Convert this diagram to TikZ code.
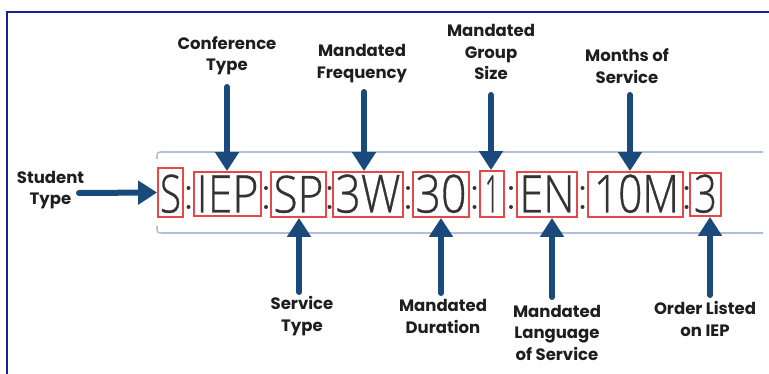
\documentclass[tikz,border=0pt]{standalone}
\usepackage{fontspec}
\usetikzlibrary{arrows.meta}
\newfontfamily\thinfont[FakeBold=0.7]{Open Sans Light}
\newfontfamily\labfont{Poppins}
\definecolor{arrowblue}{HTML}{1A4A7C}
\definecolor{boxred}{HTML}{E8474A}
\definecolor{bigtext}{HTML}{333333}
\definecolor{labtext}{HTML}{1E1E1E}
\definecolor{bandline}{HTML}{B4BDD6}
\definecolor{framecol}{HTML}{12229A}
\begin{document}
\begin{tikzpicture}[x=1pt,y=-1pt,
  lab/.style={font=\labfont\bfseries\fontsize{16.5}{21.5}\selectfont, text=labtext, align=center, inner sep=0pt, anchor=base},
  arr/.style={draw=arrowblue, line width=6pt, line cap=round, -{Triangle[width=23pt,length=19pt]}},
  rbox/.style={draw=boxred, line width=1.8pt, inner sep=0pt},
  big/.style={text=bigtext, inner sep=0pt, anchor=base, font=\thinfont},
  coldot/.style={fill=bigtext, circle, inner sep=0pt, minimum size=4pt},
  band/.style={draw=bandline, line width=1.6pt},
  frameline/.style={draw=framecol, line width=2pt}]
\useasboundingbox (0,0) rectangle (769,374);
\fill[white] (0,0) rectangle (769,374);
\draw[frameline] (7,375) -- (7,12) -- (770,12);
% band
\draw[band] (763,152) -- (164,152) .. controls (157,152) .. (157,159);
\draw[band] (763,233) -- (164,233) .. controls (157,233) .. (157,226);
% boxes
\node[rbox, minimum width=25pt, minimum height=49pt] (bS) at (170.5,192.5) {};
\node[rbox, minimum width=67pt, minimum height=44pt] (bIEP) at (227.5,194) {};
\node[rbox, minimum width=55pt, minimum height=45pt] (bSP) at (298.5,194.5) {};
\node[rbox, minimum width=70pt, minimum height=45pt] (b3W) at (368,194.5) {};
\node[rbox, minimum width=56pt, minimum height=45pt] (b30) at (441,194.5) {};
\node[rbox, minimum width=24pt, minimum height=46pt] (b1) at (492,194) {};
\node[rbox, minimum width=60pt, minimum height=45pt] (bEN) at (547,194.5) {};
\node[rbox, minimum width=95pt, minimum height=45pt] (b10M) at (635.5,194.5) {};
\node[rbox, minimum width=31pt, minimum height=43pt] (b3) at (705.5,194.5) {};
% big text
\node[big] (tS) at (170.5,212.5) {\resizebox{21pt}{38pt}{S}};
\node[big] (tIEP) at (227.5,212.5) {\resizebox{62pt}{37pt}{IEP}};
\node[big] (tSP) at (298.5,212.5) {\resizebox{50pt}{37pt}{SP}};
\node[big] (t3W) at (368,212.5) {\resizebox{65pt}{38pt}{3W}};
\node[big] (t30) at (441,212.5) {\resizebox{51pt}{38pt}{30}};
\node[big] (t1) at (492,212.5) {\resizebox{14pt}{37pt}{1}};
\node[big] (tEN) at (547,212.5) {\resizebox{55pt}{37pt}{EN}};
\node[big] (t10M) at (636.5,212.5) {\resizebox{85pt}{38pt}{10M}};
\node[big] (t3) at (705.5,212.5) {\resizebox{23pt}{38pt}{3}};
% colons
\foreach \cx/\nm in {188.5/a,266/b,329.5/c,408/d,474.5/e,511/f,582.5/g,686.5/h}{
  \node[coldot] (cu\nm) at (\cx,188) {};
  \node[coldot] (cl\nm) at (\cx,207) {};
}
% labels (anchor = baseline of last line)
\node[lab] (lStudent) at (50.5,205) {Student\\Type};
\node[lab] (lConf) at (227,71) {Conference\\Type};
\node[lab] (lFreq) at (362,78.5) {Mandated\\Frequency};
\node[lab] (lGroup) at (491,80) {Mandated\\Group\\Size};
\node[lab] (lMonths) at (627,83.5) {Months of\\Service};
\node[lab] (lServ) at (302,331.5) {Service\\Type};
\node[lab] (lDur) at (443,333.5) {Mandated\\Duration};
\node[lab] (lLang) at (557,360) {Mandated\\Language\\of Service};
\node[lab] (lOrder) at (705,336.5) {Order Listed\\on IEP};
% arrow tails
\coordinate (aStudent) at (79,193);
\coordinate (aConf) at (227,87);
\coordinate (aFreq) at (364,92);
\coordinate (aGroup) at (491,95);
\coordinate (aMonths) at (630,95);
\coordinate (aServ) at (299,292);
\coordinate (aDur) at (441,293);
\coordinate (aLang) at (552,297);
\coordinate (aOrder) at (710,295);
% arrows
\draw[arr] (aStudent) -- (bS.west);
\draw[arr] (aConf) -- (aConf |- bIEP.north);
\draw[arr] (aFreq) -- (aFreq |- b3W.north);
\draw[arr] (aGroup) -- (aGroup |- b1.north);
\draw[arr] (aMonths) -- (aMonths |- b10M.north);
\draw[arr] (aServ) -- (aServ |- bSP.south);
\draw[arr] (aDur) -- (aDur |- b30.south);
\draw[arr] (aLang) -- (aLang |- bEN.south);
\draw[arr] (aOrder) -- (aOrder |- b3.south);
\end{tikzpicture}
\end{document}
